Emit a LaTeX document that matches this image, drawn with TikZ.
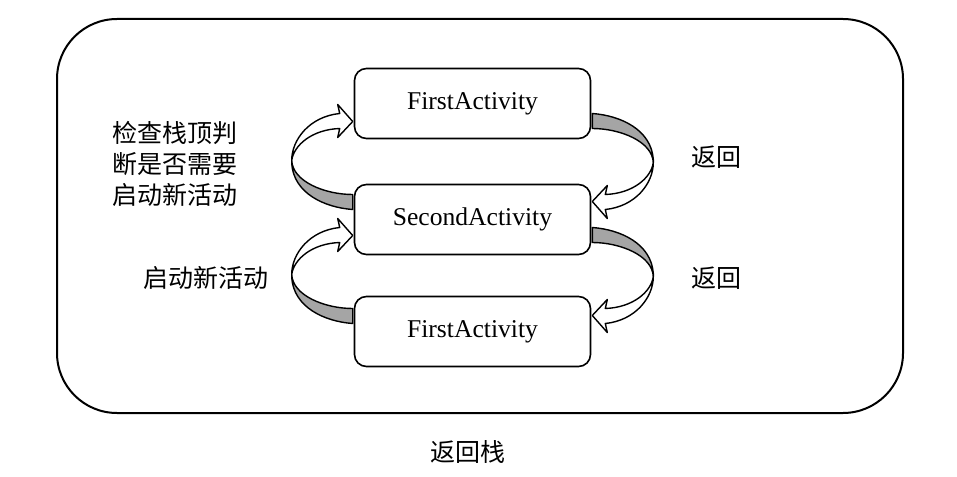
\documentclass[tikz,border=0pt]{standalone}
\usepackage{fontspec}
\setmainfont{Liberation Serif}
\newfontfamily\cjk{Noto Sans CJK SC}
\definecolor{ribbongray}{RGB}{165,165,165}
\usetikzlibrary{calc}

\begin{document}
\begin{tikzpicture}[x=0.5pt,y=-0.5pt,
  actbox/.style={draw,line width=0.8pt,rounded corners=6pt,minimum width=118pt,minimum height=35pt,
    inner sep=0pt,font=\fontsize{12.8}{15}\selectfont},
  cjklabel/.style={font=\cjk\fontsize{12.5}{15.5}\selectfont,inner sep=0pt},
  ribbon/.style={draw,line width=0.7pt,line join=round}
]
  \useasboundingbox (0,0) rectangle (957,476);
  % Back stack frame
  \draw[line width=1pt,rounded corners=30pt] (57,19) rectangle (903,413);
  \node[cjklabel] (stack) at (467.5,452) {返回栈};
  % Activities
  \node[actbox] (first) at (472.5,103.5) {FirstActivity};
  \node[actbox] (second) at (472.5,219.5) {SecondActivity};
  \node[actbox] (third) at (472.5,331.5) {FirstActivity};
  % Labels
  \node[cjklabel,align=left,anchor=west] (check) at (112,164) {检查栈顶判\\断是否需要\\启动新活动};
  \node[cjklabel] (start) at (206,278) {启动新活动};
  \node[cjklabel] (back1) at (716.5,157) {返回};
  \node[cjklabel] (back2) at (716.5,278) {返回};
  % Ribbon arrows
  \foreach \a/\b/\side/\rot in {first/second/west/0, second/third/west/0, first/second/east/180, second/third/east/180} {
    \begin{scope}[shift={($(\a.\side)!0.5!(\b.\side)$)},rotate=\rot]
      \filldraw[ribbon,fill=ribbongray] (-62,-1) .. controls (-61,20) and (-29,33) .. (-1,33)
        -- (-1,48) .. controls (-29,46) and (-60,32) .. (-62,2) -- cycle;
      \filldraw[ribbon,fill=white] (-1,-40) -- (-16,-57) -- (-14,-48)
        .. controls (-44,-45) and (-62,-22) .. (-62,-1)
        .. controls (-60,-16) and (-42,-32) .. (-14,-33) -- (-16,-24) -- cycle;
    \end{scope}
  }
\end{tikzpicture}
\end{document}
